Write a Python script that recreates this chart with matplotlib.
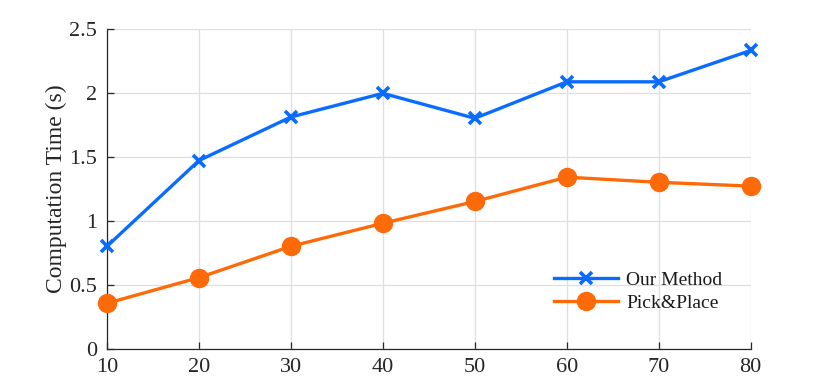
import matplotlib
matplotlib.use("Agg")
import matplotlib.pyplot as plt

x_values = [10, 20, 30, 40, 50, 60, 70, 80]
our_method = [0.80, 1.47, 1.81, 1.995, 1.80, 2.085, 2.085, 2.33]
pick_place = [0.355, 0.555, 0.80, 0.98, 1.15, 1.34, 1.30, 1.27]
y_ticks = [0, 0.5, 1, 1.5, 2, 2.5]
y_tick_labels = ["0", "0.5", "1", "1.5", "2", "2.5"]
x_ticks = [10, 20, 30, 40, 50, 60, 70, 80]

plt.rcParams['font.family'] = ['Liberation Serif', 'DejaVu Serif']

fig = plt.figure(figsize=(8.3, 3.92), dpi=100)
ax = fig.add_axes([0.1289, 0.1105, 0.7756, 0.8163])

blue = '#0A6CFF'
orange = '#FF6A08'
ax.plot(x_values, our_method, color=blue, lw=2.4, marker='x', ms=9, mew=2.6,
        label='Our Method', zorder=3, clip_on=False)
ax.plot(x_values, pick_place, color=orange, lw=2.4, marker='o', ms=13,
        label='Pick&Place', zorder=3, clip_on=False)

ax.set_xlim(10, 80)
ax.set_ylim(0, 2.5)
ax.set_xticks(x_ticks)
ax.set_yticks(y_ticks)
ax.set_yticklabels(y_tick_labels)
ax.grid(True, color='#DFDFDF', lw=0.9)
ax.set_axisbelow(True)
for s in ['top', 'right']:
    ax.spines[s].set_visible(False)
for s in ['left', 'bottom']:
    ax.spines[s].set_color('#262626')
    ax.spines[s].set_linewidth(0.9)
ax.tick_params(direction='in', length=5, width=0.9, colors='#262626',
               labelsize=16, labelcolor='#262626')
ax.tick_params(axis='x', pad=7)
ax.tick_params(axis='y', pad=7)
ax.set_ylabel('Computation Time (s)', fontsize=17, color='#262626', labelpad=2)

leg = ax.legend(loc='lower right', bbox_to_anchor=(0.983, 0.06), frameon=False,
                fontsize=14, handlelength=3.3, handletextpad=0.4,
                labelspacing=0.3)
for t in leg.get_texts():
    t.set_color('#1a1a1a')

fig.savefig('out.png', dpi=100)
